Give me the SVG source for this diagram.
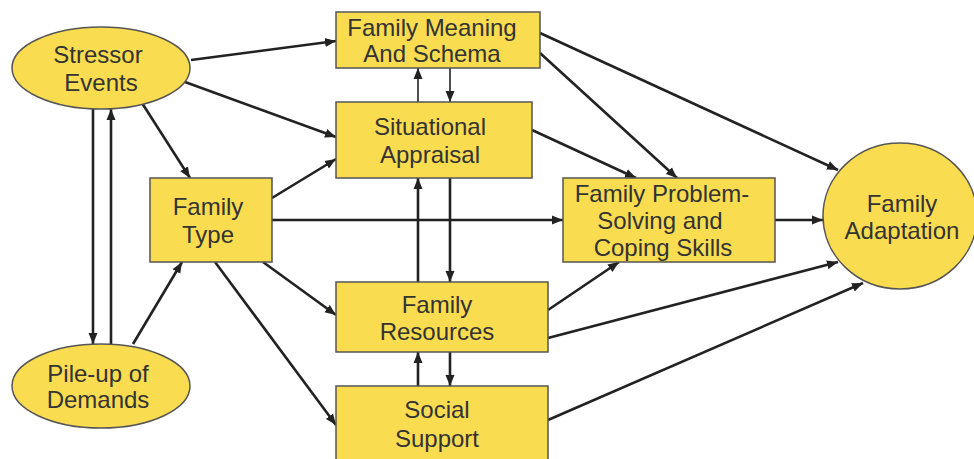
<svg xmlns="http://www.w3.org/2000/svg" width="974" height="459" viewBox="0 0 974 459">
<defs>
<style>
.n{fill:#F9DC50;stroke:#555;stroke-width:1.5}
.t{font-family:"Liberation Sans",Arial,sans-serif;font-size:24px;fill:#333;text-anchor:middle}
.c{stroke:#222;stroke-width:2.6;fill:none;marker-end:url(#a)}
.c2{stroke:#222;stroke-width:1.6;fill:none;marker-end:url(#a)}
</style>
<marker id="a" markerUnits="userSpaceOnUse" markerWidth="12" markerHeight="10" refX="11" refY="5" orient="auto">
<path d="M0,0.5 L11,5 L0,9.5 z" fill="#222"/>
</marker>
</defs>
<rect width="974" height="459" fill="#fff"/>
<g id="connectors">
<line class="c" x1="191" y1="60" x2="336" y2="41"/>
<line class="c" x1="185" y1="82" x2="336" y2="137"/>
<line class="c" x1="142" y1="103" x2="190" y2="178"/>
<line class="c" x1="272" y1="198" x2="336" y2="159"/>
<line class="c" x1="93" y1="109" x2="93" y2="344"/>
<line class="c" x1="111" y1="344" x2="111" y2="109"/>
<line class="c" x1="133" y1="344" x2="182" y2="262"/>
<line class="c" x1="263" y1="262" x2="336" y2="315"/>
<line class="c" x1="215" y1="262" x2="336" y2="425"/>
<line class="c" x1="272" y1="220" x2="563" y2="220"/>
<line class="c2" x1="418" y1="102" x2="418" y2="68"/>
<line class="c2" x1="450" y1="68" x2="450" y2="102"/>
<line class="c" x1="418" y1="282" x2="418" y2="178"/>
<line class="c" x1="450" y1="178" x2="450" y2="282"/>
<line class="c" x1="418" y1="386" x2="418" y2="352"/>
<line class="c" x1="450" y1="352" x2="450" y2="386"/>
<line class="c" x1="540" y1="53" x2="677" y2="178"/>
<line class="c" x1="540" y1="33" x2="838" y2="170"/>
<line class="c" x1="532" y1="130" x2="636" y2="178"/>
<line class="c" x1="775" y1="220" x2="823" y2="220"/>
<line class="c" x1="548" y1="310" x2="619" y2="262"/>
<line class="c" x1="548" y1="338" x2="838" y2="262"/>
<line class="c" x1="548" y1="420" x2="863" y2="283"/>
</g>
<g id="stressor">
<ellipse class="n" cx="101" cy="68" rx="89" ry="41"/>
<text class="t" x="98" y="63">Stressor</text>
<text class="t" x="101" y="91">Events</text>
</g>
<g id="meaning">
<rect class="n" x="336" y="12" width="204" height="56"/>
<text class="t" x="432" y="36">Family Meaning</text>
<text class="t" x="432" y="62">And Schema</text>
</g>
<g id="appraisal">
<rect class="n" x="336" y="102" width="196" height="76"/>
<text class="t" x="430" y="135">Situational</text>
<text class="t" x="430" y="163">Appraisal</text>
</g>
<g id="type">
<rect class="n" x="150" y="178" width="122" height="84"/>
<text class="t" x="208" y="215">Family</text>
<text class="t" x="208" y="243">Type</text>
</g>
<g id="pileup">
<ellipse class="n" cx="101" cy="386" rx="89" ry="42"/>
<text class="t" x="98" y="382">Pile-up of</text>
<text class="t" x="98" y="408">Demands</text>
</g>
<g id="resources">
<rect class="n" x="336" y="282" width="212" height="70"/>
<text class="t" x="437" y="313">Family</text>
<text class="t" x="437" y="340">Resources</text>
</g>
<g id="support">
<rect class="n" x="336" y="386" width="212" height="80"/>
<text class="t" x="437" y="418">Social</text>
<text class="t" x="437" y="447">Support</text>
</g>
<g id="coping">
<rect class="n" x="563" y="178" width="212" height="84"/>
<text class="t" x="662" y="202">Family Problem-</text>
<text class="t" x="660" y="229">Solving and</text>
<text class="t" x="663" y="256">Coping Skills</text>
</g>
<g id="adaptation">
<ellipse class="n" cx="900" cy="216" rx="77" ry="73"/>
<text class="t" x="902" y="212">Family</text>
<text class="t" x="902" y="239">Adaptation</text>
</g>
</svg>
